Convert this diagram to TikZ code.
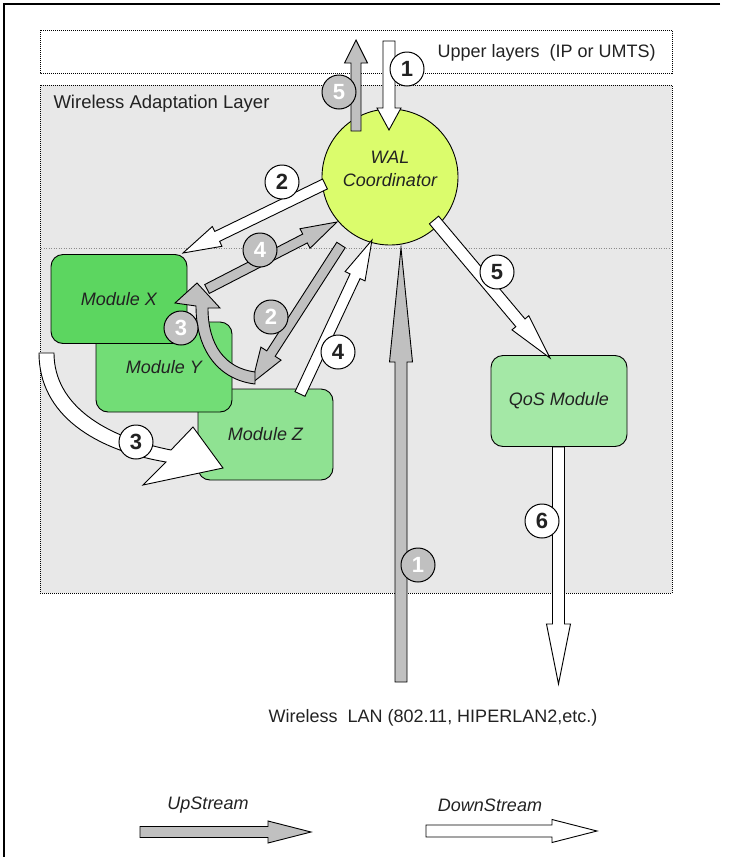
\documentclass[tikz,border=0pt]{standalone}
\usepackage{fontspec}
\setmainfont{Liberation Sans}
\usetikzlibrary{calc}
\definecolor{walbg}{RGB}{232,232,232}
\definecolor{walc}{RGB}{219,252,108}
\definecolor{modx}{RGB}{92,214,96}
\definecolor{mody}{RGB}{114,221,118}
\definecolor{modz}{RGB}{143,226,146}
\definecolor{modq}{RGB}{164,232,166}
\definecolor{agray}{RGB}{192,192,192}
\definecolor{txt}{RGB}{34,34,34}
% block arrow: style, start, end, shaft half width, head half width, head length
\newcommand{\blkarrow}[6]{%
  \draw[#1] ($(#2)!#4!90:(#3)$) -- ($(#3)!#6!(#2)!#4!90:(#3)$) -- ($(#3)!#6!(#2)!#5!90:(#3)$) -- (#3)
    -- ($(#3)!#6!(#2)!#5!-90:(#3)$) -- ($(#3)!#6!(#2)!#4!-90:(#3)$) -- ($(#2)!#4!-90:(#3)$) -- cycle;}
\begin{document}
\begin{tikzpicture}[x=1pt,y=-1pt,
  txtfont/.style={font=\fontsize{18}{21}\selectfont, text=txt},
  module/.style={draw=black, line width=0.9pt, rounded corners=12pt, inner sep=0pt,
     txtfont, font=\fontsize{18}{21}\selectfont\itshape},
  lbl/.style={circle, draw=black, line width=1pt, minimum size=34pt, inner sep=0pt,
     font=\fontsize{22}{22}\selectfont\bfseries},
  lblw/.style={lbl, fill=white, text=txt},
  lblg/.style={lbl, fill=agray, text=white},
  warr/.style={draw=black, fill=white, line width=0.9pt, line join=miter},
  garr/.style={draw=black, fill=agray, line width=0.9pt, line join=miter},
  dotbox/.style={draw=black, line width=1pt, dash pattern=on 1pt off 1pt}]
\useasboundingbox (0,0) rectangle (730,857);
% frame
\draw[line width=2pt] (720,4) -- (4,4) -- (4,857);
% layer boxes
\draw[dotbox] (40,30) rectangle (672,73);
\draw[dotbox, fill=walbg] (40,85) rectangle (672,593);
\draw[draw=black!45, line width=1pt, dash pattern=on 1pt off 1.5pt] (41,248) -- (671,248);
% texts
\node[txtfont, anchor=west] (upper) at (434,53) {Upper layers\ \ (IP or UMTS)};
\node[txtfont, font=\fontsize{18.5}{21}\selectfont, anchor=west] (wal) at (50,104) {Wireless Adaptation Layer};
\node[txtfont, anchor=west] (wlan) at (265,718) {Wireless\ \ LAN (802.11, HIPERLAN2,etc.)};
\node[txtfont, font=\fontsize{18}{21}\selectfont\itshape] (ups) at (208,805) {UpStream};
\node[txtfont, font=\fontsize{18}{21}\selectfont\itshape] (downs) at (490,805) {DownStream};
% modules
\node[module, fill=modz, minimum width=135pt, minimum height=91pt] (mz) at (265.5,434.5) {Module Z};
\node[module, fill=mody, minimum width=136pt, minimum height=90pt] (my) at (164,367) {Module Y};
\node[module, fill=modx, minimum width=136pt, minimum height=89pt] (mx) at (119,299) {Module X};
\node[module, fill=modq, minimum width=136pt, minimum height=91pt] (mq) at (559,401) {QoS Module};
\node[circle, draw=black, line width=0.9pt, fill=walc, minimum size=136pt, inner sep=0pt] (coord) at (390,177) {};
\node[txtfont, font=\fontsize{18}{23}\selectfont\itshape, align=center] (coordtxt) at (390,169) {WAL\\Coordinator};
% arrow end points
\coordinate (a1s) at (389,41);   \coordinate (a1e) at (389,130);
\coordinate (g5s) at (356,131);  \coordinate (g5e) at (356,40);
\coordinate (w2s) at (325,184);  \coordinate (w2e) at (183,253);
\coordinate (g4s) at (207,289);  \coordinate (g4e) at (337,222);
\coordinate (g2s) at (341,245);  \coordinate (g2e) at (252,383);
\coordinate (w4s) at (300,394);  \coordinate (w4e) at (372,240);
\coordinate (g1s) at (401,682);  \coordinate (g1e) at (401,248);
\coordinate (w5s) at (434,220);  \coordinate (w5e) at (550,358);
\coordinate (w6s) at (558.5,447); \coordinate (w6e) at (558.5,684);
\coordinate (lus) at (140,832);  \coordinate (lue) at (311,832);
\coordinate (lds) at (426,831);  \coordinate (lde) at (597,831);
% straight block arrows
\blkarrow{warr}{a1s}{a1e}{6pt}{12pt}{22pt}
\blkarrow{garr}{g5s}{g5e}{5pt}{11.5pt}{23pt}
\blkarrow{warr}{w2s}{w2e}{5.5pt}{11pt}{38pt}
\blkarrow{garr}{g4s}{g4e}{5pt}{11pt}{36pt}
\blkarrow{garr}{g2s}{g2e}{5pt}{12pt}{35pt}
\blkarrow{warr}{w4s}{w4e}{5.5pt}{11pt}{40pt}
\blkarrow{garr}{g1s}{g1e}{6pt}{11.5pt}{114pt}
\blkarrow{warr}{w5s}{w5e}{6pt}{11pt}{46pt}
\blkarrow{warr}{w6s}{w6e}{6pt}{12pt}{60pt}
\blkarrow{garr}{lus}{lue}{5.5pt}{11pt}{43pt}
\blkarrow{warr}{lds}{lde}{6pt}{11.5pt}{45pt}
% curved gray arrow 3 (Module Z -> Module X)
\draw[garr] (255,372) .. controls (225,368) and (208,345) .. (208,308) -- (220,308) -- (197,283)
   -- (175,303) -- (196,306) .. controls (196,352) and (220,380) .. (255,384) -- cycle;
% curved white arrow 3 (Module X -> Module Z)
\draw[warr] (39,353) -- (54,353) .. controls (54,405) and (105,437) .. (171,450) -- (193,427)
   -- (223,468) -- (143,485) -- (166,462) .. controls (95,450) and (39,415) .. (39,353) -- cycle;
% labels
\node[lblw] (l1w) at (407,69) {1};
\node[lblg] (l5g) at (339,92) {5};
\node[lblw] (l2w) at (282,182) {2};
\node[lblg] (l4g) at (260,250) {4};
\node[lblg] (l3g) at (181,328) {3};
\node[lblg] (l2g) at (271,317) {2};
\node[lblw] (l4w) at (338,352) {4};
\node[lblw] (l5w) at (497,272) {5};
\node[lblw] (l3w) at (136,442) {3};
\node[lblw] (l6w) at (542,521) {6};
\node[lblg] (l1g) at (418,565) {1};
\end{tikzpicture}
\end{document}
